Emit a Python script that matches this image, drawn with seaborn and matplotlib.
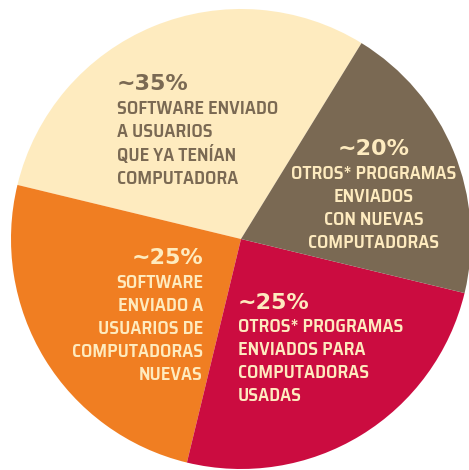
import matplotlib
matplotlib.use('Agg')
import seaborn as sns
from matplotlib import pyplot as plt

SLICE_VALUES = [30, 25, 25, 20]
SLICE_COLORS = ['#FEEBBF', '#F07E22', '#CB0C40', '#7A6953']
PCT_LABELS = ['~35%', '~25%', '~25%', '~20%']
TEXT_LABELS = [
    'SOFTWARE ENVIADO\nA USUARIOS\nQUE YA TENÍAN\nCOMPUTADORA',
    'SOFTWARE\nENVIADO A\nUSUARIOS DE\nCOMPUTADORAS\nNUEVAS',
    'OTROS* PROGRAMAS\nENVIADOS PARA\nCOMPUTADORAS\nUSADAS',
    'OTROS* PROGRAMAS\nENVIADOS\nCON NUEVAS\nCOMPUTADORAS',
]
TEXT_COLORS = ['#7A6953', '#FEEBBF', '#FEEBBF', '#FEEBBF']

# label layout in pixels: (x, y of pct, y of first body line, align)
LAYOUT = [
    (117, 84, 109, 'left'),
    (203, 258, 283, 'right'),
    (238, 303, 327, 'left'),
    (374, 149, 174, 'center'),
]

W, H = 469, 470
CX, CY, R = 241, 239, 230

sns.set_theme(style='white')
fig = plt.figure(figsize=(W / 100, H / 100), dpi=100)
ax = fig.add_axes([0, 0, 1, 1])
ax.pie(SLICE_VALUES, colors=sns.color_palette(SLICE_COLORS), startangle=58.4,
       counterclock=True, wedgeprops={'linewidth': 0})
ax.set_xlim(-CX / R, (W - CX) / R)
ax.set_ylim(-(H - CY) / R, CY / R)
ax.set_aspect('equal')
ax.axis('off')

for pct, txt, col, (x, y_pct, y_txt, ha) in zip(PCT_LABELS, TEXT_LABELS, TEXT_COLORS, LAYOUT):
    ax.text(x / W, 1 - y_pct / H, pct, transform=ax.transAxes, ha=ha, va='center',
            color=col, fontsize=16, fontweight='bold', family='DejaVu Sans')
    ax.text(x / W, 1 - (y_txt - 9) / H, txt, transform=ax.transAxes, ha=ha, va='top',
            multialignment=ha, color=col, fontsize=13.3, fontweight='semibold',
            family=['Saira SemiCondensed', 'DejaVu Sans'], linespacing=1.36)

fig.savefig('out.png', dpi=100, facecolor='white')
